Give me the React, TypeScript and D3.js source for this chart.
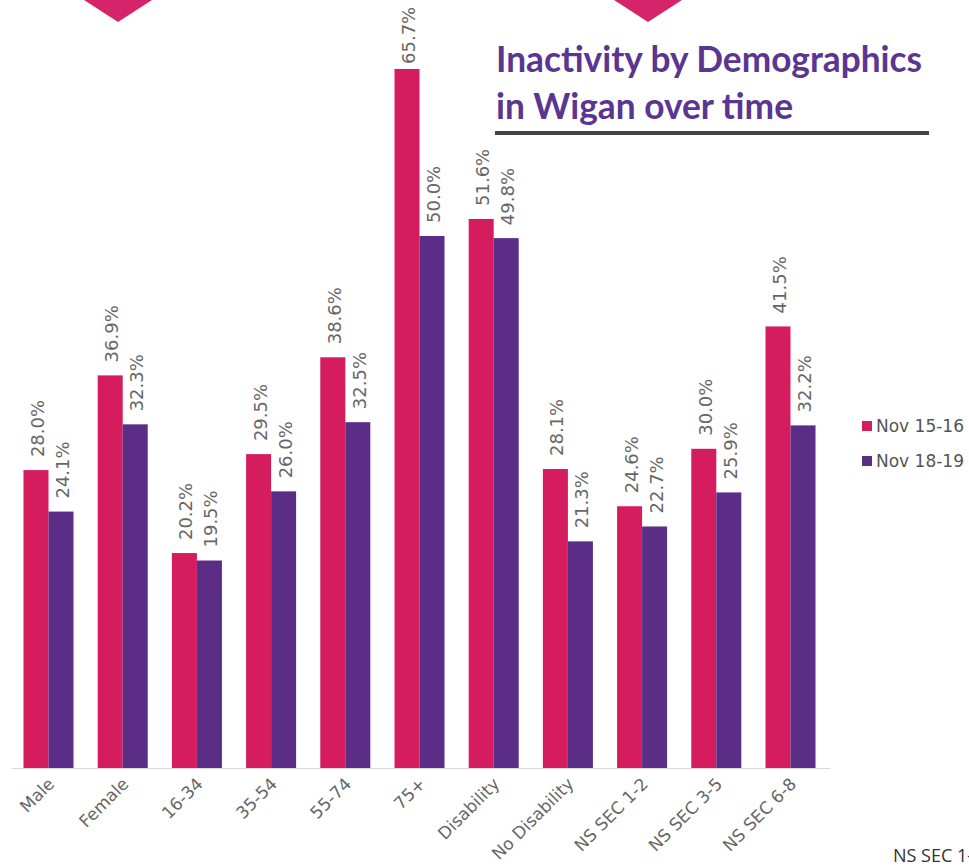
import { useEffect, useRef } from 'react';
import * as d3 from 'd3';

const categories = ['Male', 'Female', '16-34', '35-54', '55-74', '75+', 'Disability', 'No Disability', 'NS SEC 1-2', 'NS SEC 3-5', 'NS SEC 6-8'];
const seriesNames = ['Nov 15-16', 'Nov 18-19'];
const nov1516 = [28.0, 36.9, 20.2, 29.5, 38.6, 65.7, 51.6, 28.1, 24.6, 30.0, 41.5];
const nov1819 = [24.1, 32.3, 19.5, 26.0, 32.5, 50.0, 49.8, 21.3, 22.7, 25.9, 32.2];
const titleLines = ['Inactivity by Demographics', 'in Wigan over time'];
const titleWidths = [426, 297];

const PINK = '#d41c5f';
const PURPLE = '#5b2d87';
const GREY = '#666666';
const SANS = "'DejaVu Sans', Verdana, sans-serif";

export default function App() {
  const svgRef = useRef<SVGSVGElement>(null);

  useEffect(() => {
    const svg = d3.select(svgRef.current);
    svg.selectAll('*').remove();

    const W = 969;
    const H = 868;
    svg.attr('width', W).attr('height', H).attr('viewBox', `0 0 ${W} ${H}`);

    // decorative pink arrows cut off at the top
    const tri = (cx: number) => `M${cx - 34},0 L${cx + 34},0 L${cx},22 Z`;
    svg.append('path').attr('d', tri(118)).attr('fill', '#d6246a');
    svg.append('path').attr('d', tri(648)).attr('fill', '#d6246a');

    const baseline = 768;
    const x0 = d3.scaleBand<string>().domain(categories).range([11.4, 827.6]).paddingInner(0.326).paddingOuter(0.163);
    const x1 = d3.scaleBand<string>().domain(seriesNames).range([0, x0.bandwidth()]);
    const y = d3.scaleLinear().domain([0, 70]).range([baseline, baseline - 70 * 10.64]);

    const rows = categories.map((c, i) => ({ cat: c, vals: [nov1516[i], nov1819[i]] }));
    const colors = [PINK, PURPLE];

    // axis line
    svg.append('line')
      .attr('x1', 12).attr('x2', 830)
      .attr('y1', baseline + 0.5).attr('y2', baseline + 0.5)
      .attr('stroke', '#d9d9d9').attr('stroke-width', 1);

    const groups = svg.append('g').selectAll('g').data(rows).join('g')
      .attr('transform', d => `translate(${x0(d.cat)},0)`);

    groups.selectAll('rect')
      .data(d => d.vals.map((v, k) => ({ v, k })))
      .join('rect')
      .attr('x', d => x1(seriesNames[d.k])!)
      .attr('y', d => y(d.v))
      .attr('width', x1.bandwidth())
      .attr('height', d => baseline - y(d.v))
      .attr('fill', d => colors[d.k]);

    // value labels rotated
    groups.selectAll('text.val')
      .data(d => d.vals.map((v, k) => ({ v, k })))
      .join('text')
      .attr('class', 'val')
      .attr('transform', d => {
        const cx = x1(seriesNames[d.k])! + x1.bandwidth() / 2 + 8;
        const cy = Math.max(y(d.v) - 13, 64);
        return `translate(${cx},${cy}) rotate(-90)`;
      })
      .attr('text-anchor', 'start')
      .attr('font-family', SANS)
      .attr('font-size', 18)
      .attr('fill', GREY)
      .text(d => `${d.v.toFixed(1)}%`);

    // category labels at -45 deg
    svg.append('g').selectAll('text').data(categories).join('text')
      .attr('transform', c => `translate(${x0(c)! + x0.bandwidth() / 2 + 7},${baseline + 17}) rotate(-45)`)
      .attr('text-anchor', 'end')
      .attr('font-family', SANS)
      .attr('font-size', 17)
      .attr('fill', GREY)
      .text(c => c);

    // legend
    const lg = svg.append('g').selectAll('g').data(seriesNames).join('g')
      .attr('transform', (_, i) => `translate(862,${421 + i * 35})`);
    lg.append('rect').attr('width', 10).attr('height', 10).attr('fill', (_, i) => colors[i]);
    lg.append('text')
      .attr('x', 14).attr('y', 11)
      .attr('font-family', SANS)
      .attr('font-size', 17)
      .attr('fill', '#555')
      .text(d => d);

    // title
    svg.append('g').selectAll('text').data(titleLines).join('text')
      .attr('x', 496)
      .attr('y', (_, i) => 72 + i * 47)
      .attr('font-family', 'Lato, Noto Sans, sans-serif')
      .attr('font-weight', 700)
      .attr('font-size', 37)
      .attr('textLength', (_, i) => titleWidths[i])
      .attr('lengthAdjust', 'spacingAndGlyphs')
      .attr('fill', '#5a3592')
      .text(d => d);
    svg.append('rect').attr('x', 495).attr('y', 131).attr('width', 434).attr('height', 4).attr('fill', '#444');

    // cut-off footer text
    svg.append('text')
      .attr('x', 893).attr('y', 862)
      .attr('font-family', "'Open Sans', 'Noto Sans', sans-serif")
      .attr('font-size', 18)
      .attr('fill', '#333')
      .text('NS SEC 1-2');
  }, []);

  return (
    <div style={{ position: 'absolute', left: 0, top: 0 }}>
      <svg ref={svgRef} style={{ display: 'block' }} />
    </div>
  );
}
